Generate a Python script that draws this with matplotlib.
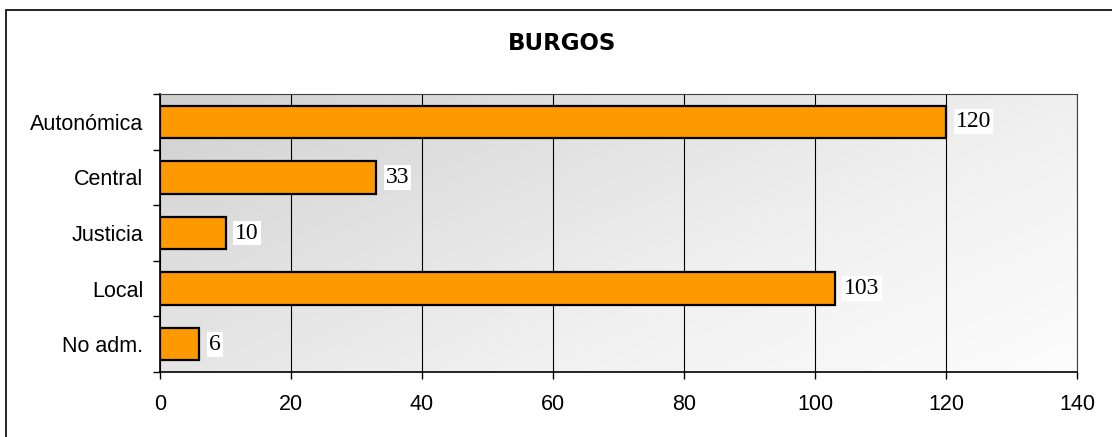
import matplotlib
matplotlib.use("Agg")
import matplotlib.pyplot as plt
import numpy as np
from matplotlib.patches import Rectangle

TITLE = "BURGOS"
categories = ["Autonómica", "Central", "Justicia", "Local", "No adm."]
values = [120, 33, 10, 103, 6]
x_ticks = [0, 20, 40, 60, 80, 100, 120, 140]

BAR_COLOR = "#FF9900"
W, H, DPI = 1112, 437, 100

fig = plt.figure(figsize=(W / DPI, H / DPI), dpi=DPI)
fig.patch.set_facecolor("white")

# outer frame (only left/top visible in the reference)
fig.patches.append(Rectangle((6 / W, -0.2), 1.2, 1.2 - 10 / H,
                             transform=fig.transFigure, fill=False,
                             edgecolor="black", linewidth=1.2))

ax = fig.add_axes([160 / W, 1 - 372 / H, (1077 - 160) / W, (372 - 94) / H])

n = len(categories)
ax.set_xlim(0, 140)
ax.set_ylim(n - 0.5, -0.5)

# diagonal grey gradient background
gx, gy = np.meshgrid(np.linspace(0, 1, 200), np.linspace(0, 1, 100))
grad = (gx * 0.6 + gy * 0.4)
ax.imshow(grad, cmap="Greys_r", vmin=-2.6, vmax=1.08, aspect="auto",
          extent=[0, 140, n - 0.5, -0.5], zorder=0, interpolation="bilinear")

ax.set_xticks(x_ticks)
ax.grid(axis="x", color="black", linewidth=0.8, zorder=1)
ax.set_axisbelow(True)

y = np.arange(n)
ax.barh(y, values, height=0.58, color=BAR_COLOR, edgecolor="black",
        linewidth=1.6, zorder=3)

for yi, v in zip(y, values):
    ax.annotate(str(v), xy=(v, yi), xytext=(7, 0), textcoords="offset points",
                ha="left", va="center", fontsize=17,
                family="Liberation Serif", zorder=4,
                bbox=dict(boxstyle="square,pad=0.08", facecolor="white",
                          edgecolor="none"))

ax.set_yticks(y)
ax.set_yticklabels(categories, family="Liberation Sans", fontsize=15.5)
ax.set_yticks(np.arange(n + 1) - 0.5, minor=True)
ax.tick_params(axis="y", which="major", length=0, pad=12)
ax.tick_params(axis="y", which="minor", length=5, width=1, color="black")
ax.tick_params(axis="x", length=5, width=1, pad=11)
for lbl in ax.get_xticklabels():
    lbl.set_family("Liberation Sans")
    lbl.set_fontsize(15.5)

for side in ["left", "bottom"]:
    ax.spines[side].set_color("black")
    ax.spines[side].set_linewidth(1.2)
ax.spines["top"].set_color("#404040")
ax.spines["top"].set_linewidth(0.8)
ax.spines["right"].set_color("#404040")
ax.spines["right"].set_linewidth(0.8)

fig.text(562 / W, 1 - 43 / H, TITLE, ha="center", va="center",
         fontsize=16.5, fontweight="bold", family="DejaVu Sans")

fig.savefig("out.png", dpi=DPI)
